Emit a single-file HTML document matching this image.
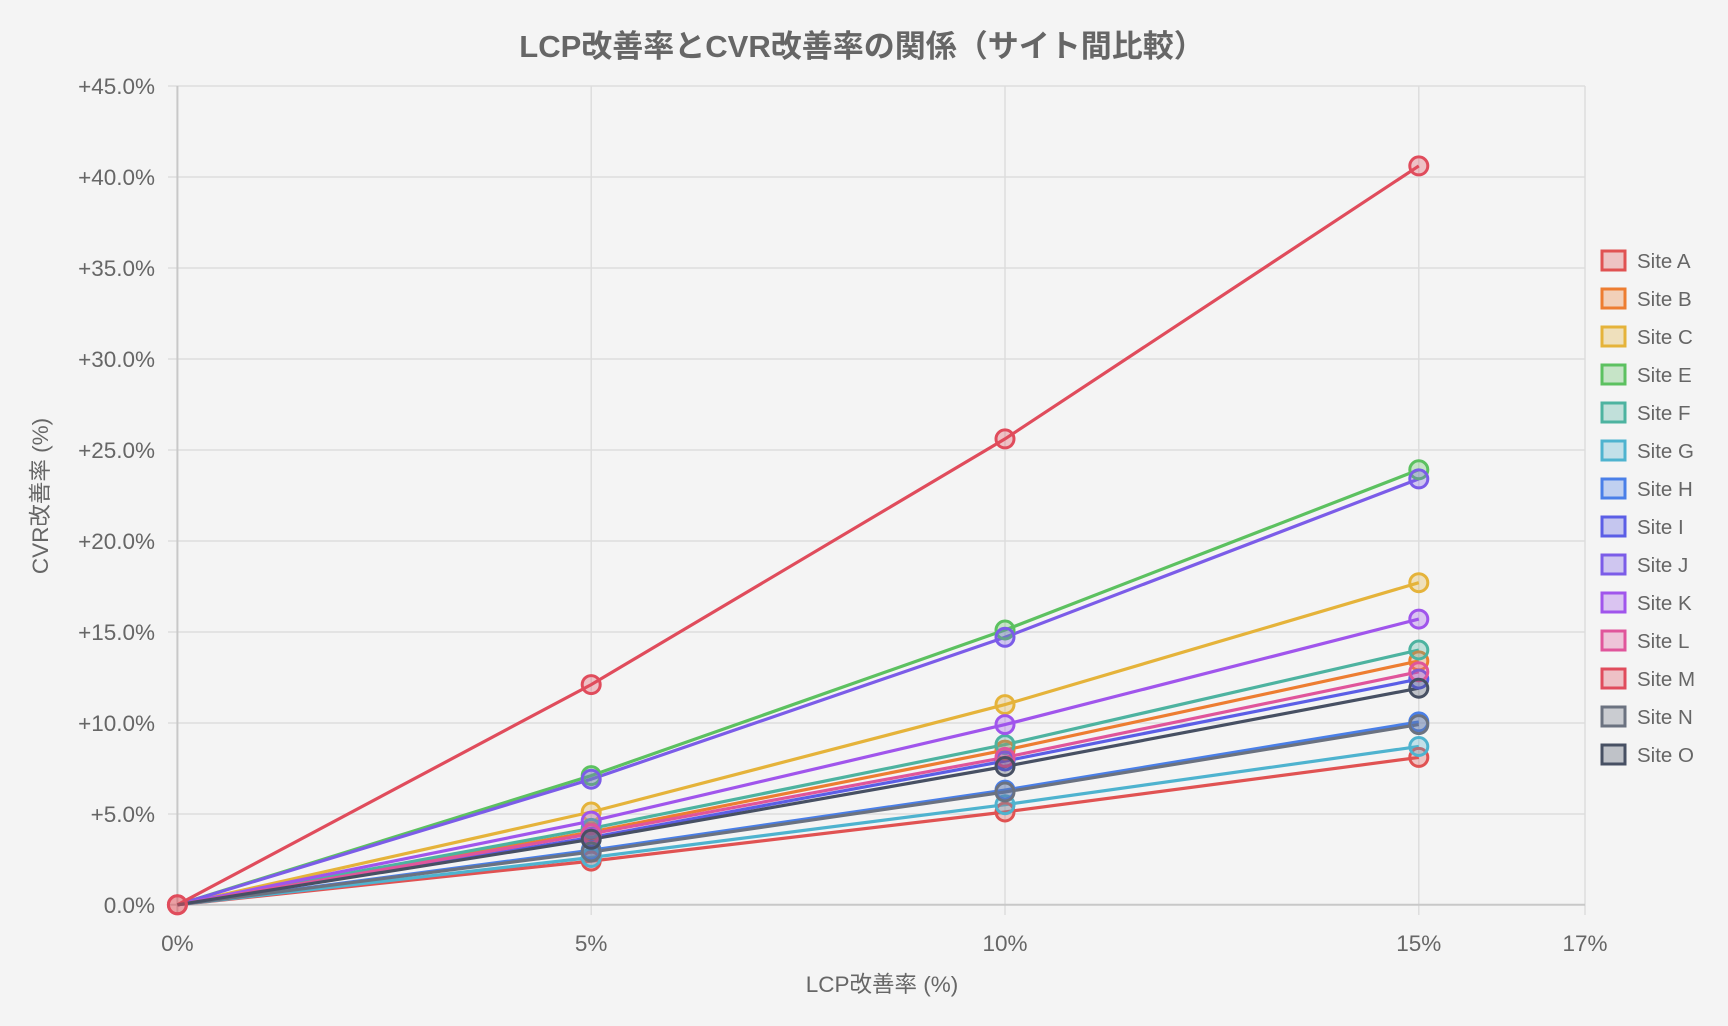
<!DOCTYPE html>
<html><head><meta charset="utf-8"><style>
html,body{margin:0;padding:0;background:#f4f4f4;}
svg{display:block;font-family:"Liberation Sans","Noto Sans CJK JP",sans-serif;}
</style></head><body>
<svg width="1728" height="1026" viewBox="0 0 1728 1026" xmlns="http://www.w3.org/2000/svg">
<rect width="1728" height="1026" fill="#f4f4f4"/>
<text x="862" y="57" text-anchor="middle" font-size="31" font-weight="bold" fill="#666">LCP改善率とCVR改善率の関係（サイト間比較）</text>
<g stroke="#dddddd" stroke-width="1.5">
<line x1="168" y1="86" x2="1585" y2="86"/><line x1="168" y1="177" x2="1585" y2="177"/>
<line x1="168" y1="268" x2="1585" y2="268"/><line x1="168" y1="359" x2="1585" y2="359"/>
<line x1="168" y1="450" x2="1585" y2="450"/><line x1="168" y1="541" x2="1585" y2="541"/>
<line x1="168" y1="632" x2="1585" y2="632"/><line x1="168" y1="723" x2="1585" y2="723"/>
<line x1="168" y1="814" x2="1585" y2="814"/>
<line x1="591.2" y1="86" x2="591.2" y2="915"/><line x1="1005" y1="86" x2="1005" y2="915"/>
<line x1="1418.8" y1="86" x2="1418.8" y2="915"/><line x1="1585" y1="86" x2="1585" y2="915"/>
</g>
<line x1="177.4" y1="86" x2="177.4" y2="915" stroke="#c8c8c8" stroke-width="2"/>
<line x1="168" y1="904.8" x2="1585" y2="904.8" stroke="#c8c8c8" stroke-width="2"/>
<g font-size="22.5" fill="#666" text-anchor="end">
<text x="155" y="94">+45.0%</text><text x="155" y="185">+40.0%</text><text x="155" y="276">+35.0%</text>
<text x="155" y="367">+30.0%</text><text x="155" y="458">+25.0%</text><text x="155" y="549">+20.0%</text>
<text x="155" y="640">+15.0%</text><text x="155" y="731">+10.0%</text><text x="155" y="822">+5.0%</text>
<text x="155" y="913">0.0%</text>
</g>
<g font-size="22.5" fill="#666" text-anchor="middle">
<text x="177.4" y="951">0%</text><text x="591.2" y="951">5%</text><text x="1005" y="951">10%</text>
<text x="1418.8" y="951">15%</text><text x="1585" y="951">17%</text>
<text x="882" y="992">LCP改善率 (%)</text>
<text transform="translate(48,496) rotate(-90)">CVR改善率 (%)</text>
</g>
<g fill="none" stroke-width="3.2">
<polyline stroke="#e05252" points="177.4,904.8 591.2,861.1 1005,812 1418.8,757.4"/>
<polyline stroke="#ed7d31" points="177.4,904.8 591.2,832 1005,750.1 1418.8,660.9"/>
<polyline stroke="#e5b33a" points="177.4,904.8 591.2,812 1005,704.6 1418.8,582.7"/>
<polyline stroke="#5cc160" points="177.4,904.8 591.2,775.6 1005,630 1418.8,469.8"/>
<polyline stroke="#4db3a0" points="177.4,904.8 591.2,828.4 1005,744.6 1418.8,650"/>
<polyline stroke="#4eb3cf" points="177.4,904.8 591.2,857.5 1005,804.7 1418.8,746.5"/>
<polyline stroke="#4a7fe8" points="177.4,904.8 591.2,850.2 1005,790.1 1418.8,721.9"/>
<polyline stroke="#5b5ee6" points="177.4,904.8 591.2,837.5 1005,761 1418.8,679.1"/>
<polyline stroke="#7b5ce8" points="177.4,904.8 591.2,779.2 1005,637.3 1418.8,478.9"/>
<polyline stroke="#a055ec" points="177.4,904.8 591.2,821.1 1005,724.6 1418.8,619.1"/>
<polyline stroke="#e0559b" points="177.4,904.8 591.2,833.8 1005,757.4 1418.8,671.8"/>
<polyline stroke="#e04c5c" points="177.4,904.8 591.2,684.6 1005,438.9 1418.8,165.9"/>
<polyline stroke="#6b7280" points="177.4,904.8 591.2,852 1005,792 1418.8,724.6"/>
<polyline stroke="#475063" points="177.4,904.8 591.2,839.3 1005,766.5 1418.8,688.2"/>
</g>
<g stroke-width="3" fill-opacity="0.3">
<g stroke="#e05252" fill="#e05252"><circle cx="177.4" cy="904.8" r="9"/><circle cx="591.2" cy="861.1" r="9"/><circle cx="1005" cy="812" r="9"/><circle cx="1418.8" cy="757.4" r="9"/></g>
<g stroke="#ed7d31" fill="#ed7d31"><circle cx="591.2" cy="832" r="9"/><circle cx="1005" cy="750.1" r="9"/><circle cx="1418.8" cy="660.9" r="9"/></g>
<g stroke="#e5b33a" fill="#e5b33a"><circle cx="591.2" cy="812" r="9"/><circle cx="1005" cy="704.6" r="9"/><circle cx="1418.8" cy="582.7" r="9"/></g>
<g stroke="#5cc160" fill="#5cc160"><circle cx="591.2" cy="775.6" r="9"/><circle cx="1005" cy="630" r="9"/><circle cx="1418.8" cy="469.8" r="9"/></g>
<g stroke="#4db3a0" fill="#4db3a0"><circle cx="591.2" cy="828.4" r="9"/><circle cx="1005" cy="744.6" r="9"/><circle cx="1418.8" cy="650" r="9"/></g>
<g stroke="#4eb3cf" fill="#4eb3cf"><circle cx="591.2" cy="857.5" r="9"/><circle cx="1005" cy="804.7" r="9"/><circle cx="1418.8" cy="746.5" r="9"/></g>
<g stroke="#4a7fe8" fill="#4a7fe8"><circle cx="591.2" cy="850.2" r="9"/><circle cx="1005" cy="790.1" r="9"/><circle cx="1418.8" cy="721.9" r="9"/></g>
<g stroke="#5b5ee6" fill="#5b5ee6"><circle cx="591.2" cy="837.5" r="9"/><circle cx="1005" cy="761" r="9"/><circle cx="1418.8" cy="679.1" r="9"/></g>
<g stroke="#7b5ce8" fill="#7b5ce8"><circle cx="591.2" cy="779.2" r="9"/><circle cx="1005" cy="637.3" r="9"/><circle cx="1418.8" cy="478.9" r="9"/></g>
<g stroke="#a055ec" fill="#a055ec"><circle cx="591.2" cy="821.1" r="9"/><circle cx="1005" cy="724.6" r="9"/><circle cx="1418.8" cy="619.1" r="9"/></g>
<g stroke="#e0559b" fill="#e0559b"><circle cx="591.2" cy="833.8" r="9"/><circle cx="1005" cy="757.4" r="9"/><circle cx="1418.8" cy="671.8" r="9"/></g>
<g stroke="#e04c5c" fill="#e04c5c"><circle cx="591.2" cy="684.6" r="9"/><circle cx="1005" cy="438.9" r="9"/><circle cx="1418.8" cy="165.9" r="9"/></g>
<g stroke="#6b7280" fill="#6b7280"><circle cx="591.2" cy="852" r="9"/><circle cx="1005" cy="792" r="9"/><circle cx="1418.8" cy="724.6" r="9"/></g>
<g stroke="#475063" fill="#475063"><circle cx="591.2" cy="839.3" r="9"/><circle cx="1005" cy="766.5" r="9"/><circle cx="1418.8" cy="688.2" r="9"/></g>
<circle cx="177.4" cy="904.8" r="9" stroke="#e04c5c" fill="#e04c5c"/>
</g>
<g stroke-width="3" fill-opacity="0.3">
<g transform="translate(1602,251)"><rect width="23" height="19" stroke="#e05252" fill="#e05252"/></g>
<g transform="translate(1602,289)"><rect width="23" height="19" stroke="#ed7d31" fill="#ed7d31"/></g>
<g transform="translate(1602,327)"><rect width="23" height="19" stroke="#e5b33a" fill="#e5b33a"/></g>
<g transform="translate(1602,365)"><rect width="23" height="19" stroke="#5cc160" fill="#5cc160"/></g>
<g transform="translate(1602,403)"><rect width="23" height="19" stroke="#4db3a0" fill="#4db3a0"/></g>
<g transform="translate(1602,441)"><rect width="23" height="19" stroke="#4eb3cf" fill="#4eb3cf"/></g>
<g transform="translate(1602,479)"><rect width="23" height="19" stroke="#4a7fe8" fill="#4a7fe8"/></g>
<g transform="translate(1602,517)"><rect width="23" height="19" stroke="#5b5ee6" fill="#5b5ee6"/></g>
<g transform="translate(1602,555)"><rect width="23" height="19" stroke="#7b5ce8" fill="#7b5ce8"/></g>
<g transform="translate(1602,593)"><rect width="23" height="19" stroke="#a055ec" fill="#a055ec"/></g>
<g transform="translate(1602,631)"><rect width="23" height="19" stroke="#e0559b" fill="#e0559b"/></g>
<g transform="translate(1602,669)"><rect width="23" height="19" stroke="#e04c5c" fill="#e04c5c"/></g>
<g transform="translate(1602,707)"><rect width="23" height="19" stroke="#6b7280" fill="#6b7280"/></g>
<g transform="translate(1602,745)"><rect width="23" height="19" stroke="#475063" fill="#475063"/></g>
</g>
<g font-size="20.5" fill="#666">
<text x="1637" y="268">Site A</text><text x="1637" y="306">Site B</text><text x="1637" y="344">Site C</text>
<text x="1637" y="382">Site E</text><text x="1637" y="420">Site F</text><text x="1637" y="458">Site G</text>
<text x="1637" y="496">Site H</text><text x="1637" y="534">Site I</text><text x="1637" y="572">Site J</text>
<text x="1637" y="610">Site K</text><text x="1637" y="648">Site L</text><text x="1637" y="686">Site M</text>
<text x="1637" y="724">Site N</text><text x="1637" y="762">Site O</text>
</g>
</svg>
</body></html>
